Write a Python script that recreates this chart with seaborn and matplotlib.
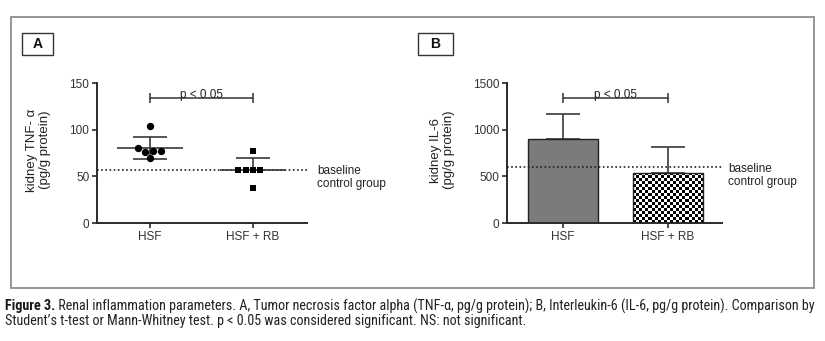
import numpy as np
import pandas as pd
import matplotlib
matplotlib.use("Agg")
import matplotlib.pyplot as plt
import seaborn as sns
from matplotlib.patches import Rectangle
from matplotlib import font_manager
from matplotlib.font_manager import FontProperties

# ---------------- data ----------------
groups = ["HSF", "HSF + RB"]
tnf_hsf = [104, 77, 70, 80, 76, 77]
tnf_rb = [77, 57, 57, 57, 57, 37]
tnf_show_lower = [True, False]
tnf_baseline = 57
tnf_ticks = [0, 50, 100, 150]
tnf_bracket_y = 134

il6_means = [903, 536]
il6_sd = [268, 275]
il6_baseline = 600
il6_ticks = [0, 500, 1000, 1500]
il6_bracket_y = 1340

p_text = "p < 0.05"
baseline_text = "baseline\ncontrol group"
ylabel_a = "kidney TNF- α\n(pg/g protein)"
ylabel_b = "kidney IL-6\n(pg/g protein)"
caption_bold = "Figure 3."
caption_line1 = (" Renal inflammation parameters. A, Tumor necrosis factor alpha (TNF-α, pg/g protein); "
                 "B, Interleukin-6 (IL-6, pg/g protein). Comparison by")
caption_line2 = "Student’s t-test or Mann-Whitney test. p < 0.05 was considered significant. NS: not significant."

# ---------------- style ----------------
sns.set_theme(style="ticks")
plt.rcParams["font.family"] = ["Liberation Sans", "DejaVu Sans"]

# pick a condensed font for the caption if one is installed
cap_reg = {"family": ["Liberation Sans", "DejaVu Sans"]}
cap_bold = {"family": ["Liberation Sans", "DejaVu Sans"], "weight": "bold"}
entries = font_manager.fontManager.ttflist
names = {f.name for f in entries}
found = False
for nm in ["Liberation Sans Narrow", "Roboto Condensed", "Open Sans Condensed", "DejaVu Sans Condensed"]:
    if nm in names:
        cap_reg = {"family": [nm, "DejaVu Sans"]}
        cap_bold = {"family": [nm, "DejaVu Sans"], "weight": "bold"}
        found = True
        break
if not found:
    reg = [f.fname for f in entries if "condensed" in f.fname.lower() and "bold" not in f.fname.lower()
           and "oblique" not in f.fname.lower() and "italic" not in f.fname.lower()
           and "light" not in f.fname.lower() and "semi" not in f.fname.lower()
           and "extra" not in f.fname.lower() and "medium" not in f.fname.lower()
           and "black" not in f.fname.lower() and "thin" not in f.fname.lower()]
    bld = [f.fname for f in entries if "condensed" in f.fname.lower() and "bold" in f.fname.lower()
           and "oblique" not in f.fname.lower() and "italic" not in f.fname.lower()
           and "semi" not in f.fname.lower() and "extra" not in f.fname.lower()]
    if reg:
        cap_reg = {"fontproperties": FontProperties(fname=sorted(reg)[0])}
        if bld:
            cap_bold = {"fontproperties": FontProperties(fname=sorted(bld)[0])}
        else:
            cap_bold = {"fontproperties": FontProperties(fname=sorted(reg)[0], weight="bold")}

W, H = 825, 341
fig = plt.figure(figsize=(W / 100, H / 100), dpi=100)
fig.patch.set_facecolor("white")


def fx(x):
    return x / W


def fy(y):
    return 1 - y / H


INK = "#2a2a2a"

# outer frame
fig.add_artist(Rectangle((fx(11), fy(288)), fx(814) - fx(11), fy(17) - fy(288),
                         transform=fig.transFigure, fill=False, ec="#8e8e8e", lw=1.3))

# panel label boxes
for (x0, x1, lab) in [(22, 53, "A"), (418, 453, "B")]:
    fig.add_artist(Rectangle((fx(x0), fy(55)), fx(x1) - fx(x0), fy(33) - fy(55),
                             transform=fig.transFigure, fill=False, ec="#333333", lw=1.0))
    fig.text(fx((x0 + x1) / 2), fy(44), lab, ha="center", va="center",
             fontsize=10, fontweight="bold", color="#111111")

axA = fig.add_axes([fx(97), fy(223), (307 - 97) / W, (223 - 83) / H])
axB = fig.add_axes([fx(507), fy(223), (722 - 507) / W, (223 - 83) / H])


def style_axis(ax, ticks, ylabel, xlab):
    ax.set_facecolor("none")
    sns.despine(ax=ax)
    for s in ["left", "bottom"]:
        ax.spines[s].set_linewidth(1.4)
        ax.spines[s].set_color(INK)
    ax.set_yticks(ticks)
    ax.set_ylim(ticks[0], ticks[-1])
    ax.tick_params(axis="both", direction="out", length=3.5, width=1.2, color=INK,
                   labelcolor="#333333", pad=2)
    ax.tick_params(axis="y", labelsize=8.5)
    ax.tick_params(axis="x", labelsize=8.5)
    ax.set_xlabel("")
    ax.set_ylabel(ylabel, fontsize=9.5, color="#222222", linespacing=1.15, va="center")
    ax.yaxis.set_label_coords(xlab, 0.52)
    ax.grid(False)


# ---------------- Panel A ----------------
dfA = pd.DataFrame({"group": [groups[0]] * len(tnf_hsf) + [groups[1]] * len(tnf_rb),
                    "value": tnf_hsf + tnf_rb})
sns.swarmplot(data=dfA[dfA.group == groups[0]], x="group", y="value", order=groups,
              marker="o", color="black", size=5.3, ax=axA, zorder=4)
sns.swarmplot(data=dfA[dfA.group == groups[1]], x="group", y="value", order=groups,
              marker="s", color="black", size=5, ax=axA, zorder=4)

for i, vals in enumerate([tnf_hsf, tnf_rb]):
    m = np.mean(vals)
    s = np.std(vals, ddof=1)
    axA.hlines(m, i - 0.32, i + 0.32, color="#3a3a3a", lw=1.2, zorder=3)
    axA.hlines(m + s, i - 0.165, i + 0.165, color="#3a3a3a", lw=1.2, zorder=3)
    axA.vlines(i, m, m + s, color="#3a3a3a", lw=1.2, zorder=3)
    if tnf_show_lower[i]:
        axA.hlines(m - s, i - 0.165, i + 0.165, color="#3a3a3a", lw=1.2, zorder=3)
        axA.vlines(i, m - s, m, color="#3a3a3a", lw=1.2, zorder=3)

axA.axhline(tnf_baseline, color="#222222", ls=(0, (1, 1.5)), lw=1.2, zorder=2)
axA.plot([0, 1], [tnf_bracket_y] * 2, color="#333333", lw=1.1, marker="|", markersize=7,
         markeredgewidth=1.1)
axA.annotate(p_text, xy=(0.5, tnf_bracket_y), xytext=(0, -2), textcoords="offset points",
             ha="center", va="bottom", fontsize=8.5, color="#222222")
axA.annotate(baseline_text, xy=(1, tnf_baseline), xycoords=("axes fraction", "data"),
             xytext=(7.5, -5.5), textcoords="offset points", va="center", ha="left",
             fontsize=8.5, color="#222222", linespacing=1.15, annotation_clip=False)
style_axis(axA, tnf_ticks, ylabel_a, -0.279)
axA.set_xlim(-0.513, 1.524)

# ---------------- Panel B ----------------
dfB = pd.DataFrame({"group": groups, "value": il6_means})
sns.barplot(data=dfB, x="group", y="value", order=groups, hue="group", hue_order=groups,
            palette=["#7b7b7b", "white"], legend=False, width=0.67, errorbar=None,
            edgecolor="#222222", linewidth=1.0, ax=axB)
style_axis(axB, il6_ticks, ylabel_b, -0.30)
axB.set_xlim(-0.532, 1.513)

axB.errorbar(range(len(groups)), il6_means, yerr=[np.zeros(len(il6_sd)), il6_sd], fmt="none",
             ecolor="#3a3a3a", elinewidth=1.2, capsize=12, capthick=1.2, zorder=0.5)

bars = [p for p in axB.patches if isinstance(p, Rectangle)]
for p in bars:
    p.set_zorder(2)
# checkerboard fill on the second bar
pb = bars[1]
bx, bw, bh = pb.get_x(), pb.get_width(), pb.get_height()
(x0p, y0p), (x1p, y1p) = axB.transData.transform([(bx, 0), (bx + bw, bh)])
nx = max(2, int(round((x1p - x0p) / 3.0)))
ny = max(2, int(round((y1p - y0p) / 3.0)))
checker = (np.indices((ny, nx)).sum(axis=0) % 2).astype(float)
im = axB.imshow(checker, cmap="gray", extent=[bx, bx + bw, 0, bh], interpolation="nearest",
                aspect="auto", zorder=1.5, vmin=0, vmax=1)
im.set_clip_path(pb)
pb.set_facecolor("none")
pb.set_zorder(2.5)
axB.set_xlim(-0.532, 1.513)
axB.set_ylim(il6_ticks[0], il6_ticks[-1])

axB.axhline(il6_baseline, color="#222222", ls=(0, (1, 1.5)), lw=1.2, zorder=3)
axB.plot([0, 1], [il6_bracket_y] * 2, color="#333333", lw=1.1, marker="|", markersize=7,
         markeredgewidth=1.1)
axB.annotate(p_text, xy=(0.5, il6_bracket_y), xytext=(0, -2), textcoords="offset points",
             ha="center", va="bottom", fontsize=8.5, color="#222222")
axB.annotate(baseline_text, xy=(1, il6_baseline), xycoords=("axes fraction", "data"),
             xytext=(4.5, -6), textcoords="offset points", va="center", ha="left",
             fontsize=8.5, color="#222222", linespacing=1.15, annotation_clip=False)

# ---------------- caption ----------------
cap_fs = 8.5
t_bold = fig.text(fx(5), fy(306), caption_bold, ha="left", va="center",
                  color="#1a1a1a", **cap_bold)
t_rest = axA.annotate(caption_line1, xy=(1, 0.5), xycoords=t_bold, ha="left", va="center",
                      color="#222222", annotation_clip=False, **cap_reg)
t_l2 = fig.text(fx(5), fy(321), caption_line2, ha="left", va="center",
                color="#222222", **cap_reg)
for t in (t_bold, t_rest, t_l2):
    t.set_fontsize(cap_fs)
fig.canvas.draw()
r = fig.canvas.get_renderer()
right = t_rest.get_window_extent(r).x1
left = t_bold.get_window_extent(r).x0
scale = (818 - left) / (right - left)
for t in (t_bold, t_rest, t_l2):
    t.set_fontsize(cap_fs * scale)

fig.savefig("out.png", dpi=100, facecolor="white")
